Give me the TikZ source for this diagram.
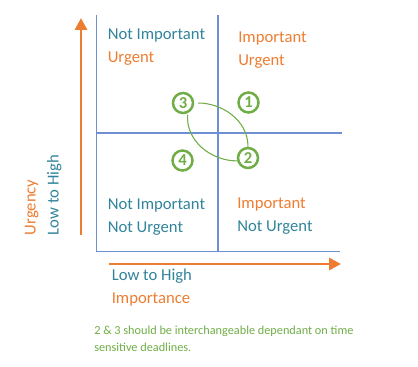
\documentclass[tikz,border=0pt]{standalone}
\usepackage{fontspec}
\setmainfont{Carlito}
\usetikzlibrary{arrows.meta}

\definecolor{quadorange}{HTML}{ED7D31}
\definecolor{quadblue}{HTML}{31849B}
\definecolor{quadgreen}{HTML}{70AD47}
\definecolor{gridblue}{HTML}{6F8FD3}

\tikzset{
	gridline/.style={draw=gridblue,line width=1pt},
	axisarrow/.style={draw=quadorange,line width=2.2pt,-{Triangle[length=9pt,width=9pt]}},
	quadtext/.style={anchor=base west,inner sep=0pt,font=\fontsize{12.5}{15}\selectfont},
	numcircle/.style={circle,draw=quadgreen,line width=1.9pt,text=quadgreen,minimum size=15pt,inner sep=0pt,font=\fontsize{12.5}{14}\selectfont\bfseries},
	swapline/.style={draw=quadgreen,line width=0.8pt}
}

\begin{document}
\begin{tikzpicture}[x=0.75pt,y=-0.75pt]
	\useasboundingbox (0,0) rectangle (418,367);
	% grid
	\coordinate (tl) at (96.5,15);
	\coordinate (bl) at (96.5,251.5);
	\coordinate (tm) at (218,15);
	\coordinate (bm) at (218,251.5);
	\coordinate (ml) at (96.5,133);
	\coordinate (mr) at (342,133);
	\coordinate (br) at (340,251.5);
	\draw [gridline] (tl) -- (bl) -- (br);
	\draw [gridline] (tm) -- (bm);
	\draw [gridline] (ml) -- (mr);
	% axes
	\coordinate (ua) at (81,235);
	\coordinate (ub) at (81,18);
	\coordinate (ia) at (109,264);
	\coordinate (ib) at (341,264);
	\draw [axisarrow] (ua) -- (ub);
	\draw [axisarrow] (ia) -- (ib);
	\node [quadtext,text=quadblue] (ilow) at (111.5,280.5) {Low to High};
	\node [quadtext,text=quadorange] (iname) at (111.5,304) {Importance};
	\node [quadtext,text=quadorange,rotate=90] (uname) at (35.5,235.5) {Urgency};
	\node [quadtext,text=quadblue,rotate=90] (ulow) at (58.5,235.5) {Low to High};
	% quadrants
	\node [quadtext,text=quadblue] (q3a) at (107.5,40) {Not Important};
	\node [quadtext,text=quadorange] (q3b) at (107.5,62.5) {Urgent};
	\node [quadtext,text=quadorange] (q1a) at (238,43) {Important};
	\node [quadtext,text=quadorange] (q1b) at (238,65.5) {Urgent};
	\node [quadtext,text=quadblue] (q4a) at (107.5,210) {Not Important};
	\node [quadtext,text=quadblue] (q4b) at (107.5,232.5) {Not Urgent};
	\node [quadtext,text=quadorange] (q2a) at (237,209) {Important};
	\node [quadtext,text=quadblue] (q2b) at (237,231.5) {Not Urgent};
	% numbers
	\node [numcircle] (n3) at (183,103) {3};
	\node [numcircle] (n1) at (248.5,102.5) {1};
	\node [numcircle] (n4) at (182.5,160.5) {4};
	\node [numcircle] (n2) at (248,158) {2};
	\draw [swapline,shorten <=3pt] (n3.east) to[out=0,in=90] (n2.north);
	\draw [swapline,shorten <=1pt] (n3.-65) to[out=-95,in=180] (n2.195);
	% note (base is the last line)
	\node [anchor=base west,inner sep=0pt,align=left,text=quadgreen,font=\fontsize{9.2}{12.5}\selectfont] (note) at (94,351.5) {2 \& 3 should be interchangeable dependant on time\\sensitive deadlines.};
\end{tikzpicture}
\end{document}
